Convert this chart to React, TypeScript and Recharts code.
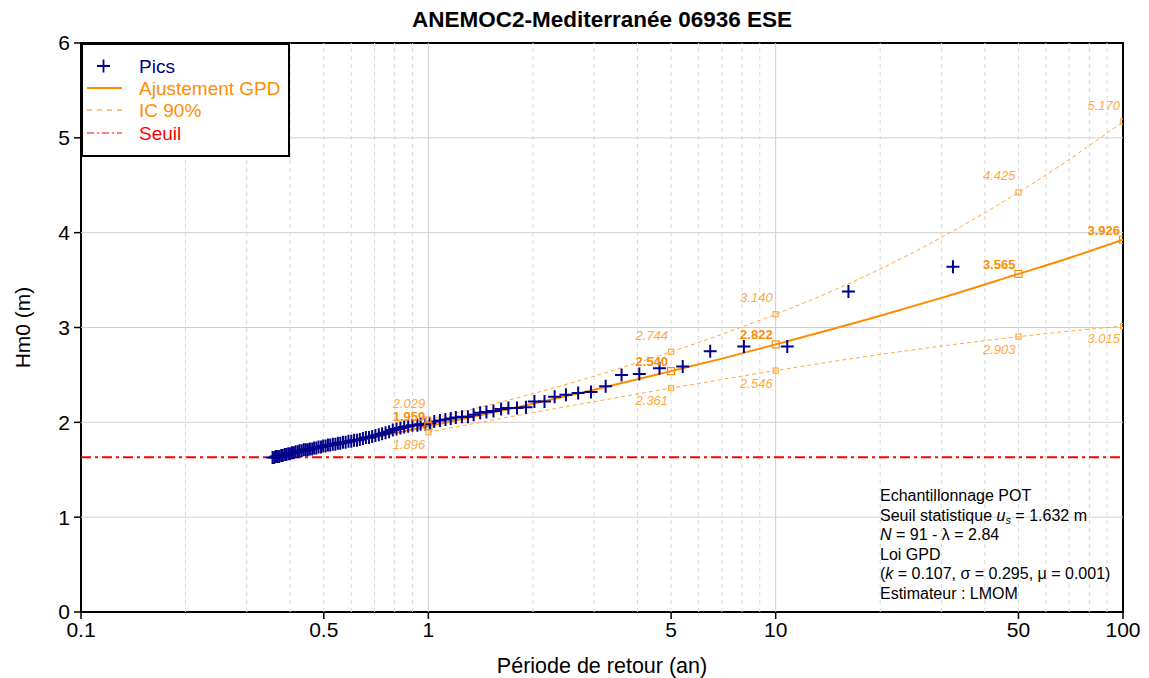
import { ComposedChart, Legend, Line, ReferenceArea, ReferenceLine, Scatter, XAxis, YAxis } from 'recharts'

const FONT = '"Liberation Sans", Arial, sans-serif'
const NAVY = '#00008B'
const ORANGE = '#FF8C00'
const ORANGE_LIGHT = '#FFA940'
const RED = '#FF0000'

// Peaks over threshold, largest first: return period (an) and Hm0 (m)
const peakPeriods = [
  32.39, 16.2, 10.8, 8.1, 6.48, 5.4, 4.63, 4.05, 3.6, 3.24,
  2.94, 2.7, 2.49, 2.31, 2.16, 2.02, 1.91, 1.8, 1.7, 1.62,
  1.54, 1.47, 1.41, 1.35, 1.3, 1.25, 1.2, 1.16, 1.12, 1.08,
  1.04, 1.01, 0.98, 0.95, 0.93, 0.9, 0.875, 0.852, 0.831, 0.81,
  0.79, 0.771, 0.753, 0.736, 0.72, 0.704, 0.689, 0.675, 0.661, 0.648,
  0.635, 0.623, 0.611, 0.6, 0.589, 0.578, 0.568, 0.558, 0.549, 0.54,
  0.531, 0.522, 0.514, 0.506, 0.498, 0.491, 0.483, 0.476, 0.469, 0.463,
  0.456, 0.45, 0.444, 0.438, 0.432, 0.426, 0.421, 0.415, 0.41, 0.405,
  0.4, 0.395, 0.39, 0.386, 0.381, 0.377, 0.372, 0.368, 0.364, 0.36,
  0.356,
]
const peakHm0 = [
  3.64, 3.38, 2.8, 2.8, 2.75, 2.59, 2.57, 2.51, 2.5, 2.38,
  2.32, 2.31, 2.29, 2.27, 2.22, 2.22, 2.16, 2.15, 2.15, 2.14,
  2.12, 2.11, 2.1, 2.08, 2.06, 2.06, 2.05, 2.04, 2.03, 2.02,
  2.01, 1.99, 1.98, 1.98, 1.97, 1.97, 1.96, 1.95, 1.94, 1.93,
  1.92, 1.9, 1.89, 1.88, 1.87, 1.86, 1.85, 1.84, 1.84, 1.83,
  1.82, 1.81, 1.81, 1.8, 1.8, 1.79, 1.79, 1.78, 1.78, 1.77,
  1.77, 1.76, 1.76, 1.75, 1.75, 1.74, 1.74, 1.73, 1.73, 1.72,
  1.72, 1.71, 1.71, 1.71, 1.7, 1.7, 1.69, 1.69, 1.68, 1.68,
  1.67, 1.67, 1.66, 1.66, 1.65, 1.65, 1.64, 1.64, 1.64, 1.63,
  1.63,
]

// GPD fit curve
const fitPeriods = [0.356, 0.4, 0.5, 0.6, 0.7, 0.8, 1, 1.5, 2, 3, 5, 7, 10, 20, 30, 50, 70, 100]
const fitHm0 = [1.636, 1.671, 1.738, 1.795, 1.843, 1.886, 1.959, 2.096, 2.196, 2.343, 2.54, 2.672, 2.822, 3.124, 3.312, 3.565, 3.733, 3.926]

// 90% confidence band
const ciPeriods = [1, 2, 3, 5, 7, 10, 20, 30, 50, 70, 100]
const ciUpper = [2.029, 2.302, 2.486, 2.744, 2.929, 3.14, 3.617, 3.95, 4.425, 4.772, 5.17]
const ciLower = [1.896, 2.102, 2.218, 2.361, 2.452, 2.546, 2.716, 2.804, 2.903, 2.961, 3.015]

// labelled return levels
const markPeriods = [1, 5, 10, 50, 100]
const markFit = [1.959, 2.54, 2.822, 3.565, 3.926]
const markUpper = [2.029, 2.744, 3.14, 4.425, 5.17]
const markLower = [1.896, 2.361, 2.546, 2.903, 3.015]

const threshold = 1.632

const xTicks = [0.1, 0.5, 1, 5, 10, 50, 100]
const yTicks = [0, 1, 2, 3, 4, 5, 6]
const xMajorGrid = [1, 10]
const xMinorGrid = [0.2, 0.3, 0.4, 0.5, 0.6, 0.7, 0.8, 0.9, 2, 3, 4, 5, 6, 7, 8, 9, 20, 30, 40, 50, 60, 70, 80, 90]
const yGrid = [1, 2, 3, 4, 5]

const pair = (ts: number[], vs: number[]) => ts.map((T, i) => ({ T, v: vs[i] }))

const peaks = pair(peakPeriods, peakHm0)
const fitCurve = pair(fitPeriods, fitHm0)
const upperCurve = pair(ciPeriods, ciUpper)
const lowerCurve = pair(ciPeriods, ciLower)
const fitMarks = pair(markPeriods, markFit)
const upperMarks = pair(markPeriods, markUpper)
const lowerMarks = pair(markPeriods, markLower)

function Plus(props: any) {
  const { cx, cy } = props
  return <path d={`M${cx - 6.5},${cy}H${cx + 6.5}M${cx},${cy - 6.5}V${cy + 6.5}`} stroke={NAVY} strokeWidth={2} />
}

const markShape = (color: string, size: number, dy: number, bold: boolean) => (props: any) => {
  const { cx, cy, payload } = props
  return (
    <g>
      <rect x={cx - size / 2} y={cy - size / 2} width={size} height={size} fill="none" stroke={color} strokeWidth={1.2} />
      <text
        x={cx - 3}
        y={cy + dy}
        textAnchor="end"
        fill={color}
        fontSize={13}
        fontWeight={bold ? 'bold' : 'normal'}
        fontStyle={bold ? 'normal' : 'italic'}
      >
        {payload.v.toFixed(3)}
      </text>
    </g>
  )
}

function LegendBox() {
  return (
    <svg width={209} height={114} style={{ display: 'block', background: '#fff' }}>
      <rect x={1} y={1} width={207} height={112} fill="#fff" stroke="#000" strokeWidth={2} />
      <path d="M16,23H29M22.5,16.5V29.5" stroke={NAVY} strokeWidth={1.8} />
      <text x={58} y={30} fontSize={19} fill={NAVY}>Pics</text>
      <line x1={6} x2={41} y1={45} y2={45} stroke={ORANGE} strokeWidth={2} />
      <text x={58} y={52} fontSize={19} fill={ORANGE}>Ajustement GPD</text>
      <line x1={6} x2={41} y1={67} y2={67} stroke={ORANGE} strokeWidth={1.2} strokeDasharray="5 5" />
      <text x={58} y={74} fontSize={19} fill={ORANGE}>IC 90%</text>
      <line x1={6} x2={41} y1={90} y2={90} stroke={RED} strokeWidth={1.2} strokeDasharray="7 3 2 3" />
      <text x={58} y={97} fontSize={19} fill={RED}>Seuil</text>
    </svg>
  )
}

function YTitle(props: any) {
  const { viewBox } = props
  const x = 22
  const y = viewBox.y + viewBox.height / 2
  return (
    <text x={x} y={y} transform={`rotate(-90 ${x} ${y})`} textAnchor="middle" dominantBaseline="central" fontSize={21} fill="#000">
      Hm0 (m)
    </text>
  )
}

export default function App() {
  return (
    <div style={{ position: 'absolute', left: 0, top: 0, width: 1149, height: 678, background: '#fff', fontFamily: FONT }}>
      <div style={{ position: 'absolute', left: 81, top: 7, width: 1042, textAlign: 'center', fontSize: 22.5, fontWeight: 'bold', lineHeight: '26px' }}>
        ANEMOC2-Mediterranée 06936 ESE
      </div>
      <ComposedChart width={1149} height={678} margin={{ top: 43, right: 26, bottom: 0, left: 0 }}>
        <XAxis
          type="number"
          dataKey="T"
          scale="log"
          domain={[0.1, 100]}
          ticks={xTicks}
          allowDataOverflow
          height={66}
          axisLine={false}
          tickLine={{ stroke: '#000', strokeWidth: 1.5 }}
          tickSize={7}
          tickMargin={3}
          tick={{ fontSize: 21, fill: '#000' }}
          tickFormatter={(v: number) => String(v)}
          label={{ value: 'Période de retour (an)', position: 'insideBottom', offset: 5, fontSize: 21.5, fill: '#000' }}
        />
        <YAxis
          type="number"
          domain={[0, 6]}
          ticks={yTicks}
          width={81}
          axisLine={false}
          tickLine={{ stroke: '#000', strokeWidth: 1.5 }}
          tickSize={7}
          tickMargin={4}
          tick={{ fontSize: 21, fill: '#000' }}
          label={{ content: YTitle }}
        />
        {yGrid.map((y) => (
          <ReferenceLine key={`h${y}`} y={y} stroke="#d0d0d0" strokeWidth={1} />
        ))}
        {xMinorGrid.map((x) => (
          <ReferenceLine key={`m${x}`} x={x} stroke="#d8d8d8" strokeWidth={1} strokeDasharray="4 4" />
        ))}
        {xMajorGrid.map((x) => (
          <ReferenceLine key={`M${x}`} x={x} stroke="#cfcfcf" strokeWidth={1} />
        ))}
        <ReferenceLine y={threshold} stroke={RED} strokeWidth={2} strokeDasharray="10 4 3 4" />
        <Line data={upperCurve} dataKey="v" type="monotone" stroke={ORANGE_LIGHT} strokeWidth={1} strokeDasharray="4 3" dot={false} isAnimationActive={false} />
        <Line data={lowerCurve} dataKey="v" type="monotone" stroke={ORANGE_LIGHT} strokeWidth={1} strokeDasharray="4 3" dot={false} isAnimationActive={false} />
        <Scatter data={peaks} dataKey="v" shape={Plus} isAnimationActive={false} />
        <Line data={fitCurve} dataKey="v" type="monotone" stroke={ORANGE} strokeWidth={2} dot={false} isAnimationActive={false} />
        <Scatter data={upperMarks} dataKey="v" shape={markShape(ORANGE_LIGHT, 5, -12, false)} isAnimationActive={false} />
        <Scatter data={lowerMarks} dataKey="v" shape={markShape(ORANGE_LIGHT, 5, 17, false)} isAnimationActive={false} />
        <Scatter data={fitMarks} dataKey="v" shape={markShape(ORANGE, 7, -5, true)} isAnimationActive={false} />
        <ReferenceArea x1={0.1} x2={100} y1={0} y2={6} fill="none" stroke="#000" strokeWidth={2} ifOverflow="visible" />
        <Legend
          layout="vertical"
          align="center"
          verticalAlign="middle"
          content={() => <LegendBox />}
          wrapperStyle={{ left: 81, top: 43, width: 209, height: 114 }}
        />
      </ComposedChart>
      <div style={{ position: 'absolute', left: 880, top: 486, fontSize: 16, lineHeight: '19.5px', color: '#000', whiteSpace: 'nowrap' }}>
        <div>Echantillonnage POT</div>
        <div>
          Seuil statistique <i>u</i>
          <sub style={{ fontSize: 11, fontStyle: 'italic', verticalAlign: '-3px', lineHeight: 0 }}>s</sub> = 1.632 m
        </div>
        <div>
          <i>N</i> = 91 - λ = 2.84
        </div>
        <div>Loi GPD</div>
        <div>
          (<i>k</i> = 0.107, σ = 0.295, μ = 0.001)
        </div>
        <div>Estimateur : LMOM</div>
      </div>
    </div>
  )
}
